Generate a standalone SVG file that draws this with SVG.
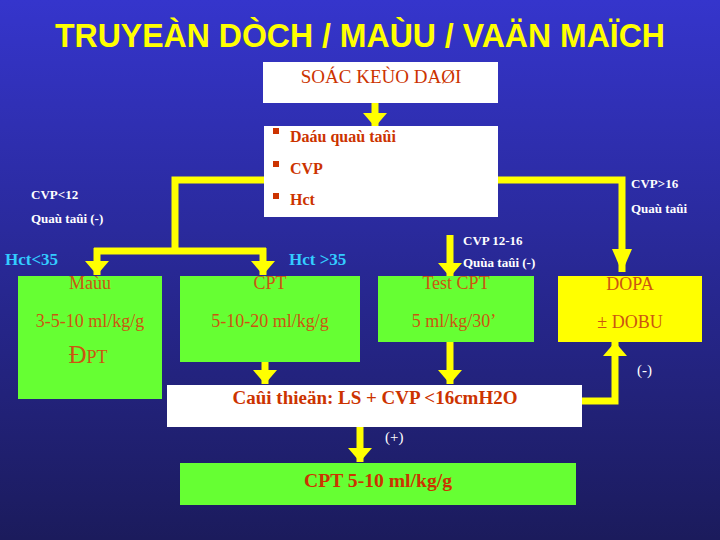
<svg xmlns="http://www.w3.org/2000/svg" width="720" height="540" viewBox="0 0 720 540">
  <defs>
    <linearGradient id="bg" x1="0" y1="0" x2="0" y2="1">
      <stop offset="0" stop-color="#3535CC"/>
      <stop offset="1" stop-color="#1B1B5C"/>
    </linearGradient>
    <marker id="ah" viewBox="0 0 14 24" markerUnits="userSpaceOnUse" markerWidth="14" markerHeight="24" refX="14" refY="12" orient="auto">
      <path d="M0,0 L14,12 L0,24 z" fill="#FFFF00"/>
    </marker>
    <marker id="ahl" viewBox="0 0 23 20" markerUnits="userSpaceOnUse" markerWidth="23" markerHeight="20" refX="23" refY="10" orient="auto">
      <path d="M0,0 L23,10 L0,20 z" fill="#FFFF00"/>
    </marker>
    <style>
      .title { font-family: "Liberation Sans", Arial, sans-serif; font-weight: bold; font-size: 34px; fill: #FFFF00; }
      .red { font-family: "Liberation Serif", "Times New Roman", serif; fill: #CC3300; }
      .bold { font-weight: bold; }
      .lbl { font-family: "Liberation Serif", "Times New Roman", serif; font-weight: bold; font-size: 13px; fill: #FFFFFF; }
      .cyan { font-family: "Liberation Serif", "Times New Roman", serif; font-weight: bold; font-size: 17px; fill: #33CCFF; }
      .box { font-family: "Liberation Serif", "Times New Roman", serif; font-size: 18px; fill: #CC5511; text-anchor: middle; }
      .thin { font-family: "Liberation Serif", "Times New Roman", serif; font-size: 15px; fill: #FFFFFF; }
      .green { fill: #66FF33; }
      .white { fill: #FFFFFF; }
      .conn { fill: none; stroke: #FFFF00; stroke-width: 7; stroke-linejoin: miter; }
    </style>
  </defs>

  <rect x="0" y="0" width="720" height="540" fill="url(#bg)"/>

  <text class="title" x="360" y="47" text-anchor="middle" textLength="610" lengthAdjust="spacingAndGlyphs">TRUYEÀN DÒCH / MAÙU / VAÄN MAÏCH</text>

  <g id="connectors">
    <path class="conn" stroke-width="6" d="M375,103 L375,127" marker-end="url(#ah)"/>
    <path class="conn" stroke-width="6" d="M264,180 L175,180 L175,251"/>
    <path class="conn" stroke-width="6" d="M94,251 L266,251"/>
    <path class="conn" stroke-width="7" d="M97,248 L97,275" marker-end="url(#ah)"/>
    <path class="conn" stroke-width="7" d="M263,248 L263,275" marker-end="url(#ah)"/>
    <path class="conn" stroke-width="8" d="M498,180 L622,180 L622,272" marker-end="url(#ahl)"/>
    <path class="conn" stroke-width="9" d="M450,235 L450,277" marker-end="url(#ah)"/>
    <path class="conn" stroke-width="9" d="M265,362 L265,384" marker-end="url(#ah)"/>
    <path class="conn" stroke-width="9" d="M450,342 L450,384" marker-end="url(#ah)"/>
    <path class="conn" stroke-width="8" d="M577,401 L615,401 L615,342" marker-end="url(#ah)"/>
    <path class="conn" stroke-width="11" d="M360,427 L360,462" marker-end="url(#ah)"/>
  </g>

  <g id="soc-keo-dai">
    <rect class="white" x="263" y="62" width="235" height="41"/>
    <text class="red" x="381" y="83" font-size="19" text-anchor="middle">SOÁC KEÙO DAØI</text>
  </g>

  <g id="dau-qua-tai">
    <rect class="white" x="264" y="126" width="234" height="91"/>
    <rect x="273" y="128" width="6" height="6" fill="#CC3300"/>
    <rect x="273" y="161" width="6" height="6" fill="#CC3300"/>
    <rect x="273" y="193" width="6" height="6" fill="#CC3300"/>
    <text class="red bold" x="290" y="142" font-size="16">Daáu quaù taûi</text>
    <text class="red bold" x="290" y="174" font-size="16">CVP</text>
    <text class="red bold" x="290" y="205" font-size="16">Hct</text>
  </g>

  <g id="labels">
    <text class="lbl" x="31" y="199">CVP&lt;12</text>
    <text class="lbl" x="31" y="223">Quaù taûi (-)</text>
    <text class="cyan" x="5" y="265">Hct&lt;35</text>
    <text class="cyan" x="289" y="265">Hct &gt;35</text>
    <text class="lbl" x="463" y="245">CVP 12-16</text>
    <text class="lbl" x="463" y="267">Quùa taûi (-)</text>
    <text class="lbl" x="631" y="188">CVP&gt;16</text>
    <text class="lbl" x="631" y="213">Quaù taûi</text>
    <text class="thin" x="637" y="375">(-)</text>
    <text class="thin" x="385" y="442" font-size="14">(+)</text>
  </g>

  <g id="mau">
    <rect class="green" x="18" y="276" width="144" height="123"/>
    <text class="box" x="90" y="289">Maùu</text>
    <text class="box" x="90" y="327">3-5-10 ml/kg/g</text>
    <text class="box" x="88" y="363"><tspan font-size="25">Đ</tspan>PT</text>
  </g>

  <g id="cpt">
    <rect class="green" x="180" y="276" width="180" height="86"/>
    <text class="box" x="270" y="289">CPT</text>
    <text class="box" x="270" y="327">5-10-20 ml/kg/g</text>
  </g>

  <g id="test-cpt">
    <rect class="green" x="378" y="276" width="156" height="66"/>
    <text class="box" x="456" y="289">Test CPT</text>
    <text class="box" x="454" y="327">5 ml/kg/30’</text>
  </g>

  <g id="dopa">
    <rect x="558" y="276" width="144" height="66" fill="#FFFF00"/>
    <text class="box" x="630" y="290">DOPA</text>
    <text class="box" x="630" y="328">± DOBU</text>
  </g>

  <g id="cai-thien">
    <rect class="white" x="167" y="385" width="415" height="42"/>
    <text class="red bold" x="375" y="404" font-size="18" text-anchor="middle" textLength="285" lengthAdjust="spacingAndGlyphs">Caûi thieän: LS + CVP &lt;16cmH2O</text>
  </g>

  <g id="cpt-5-10">
    <rect class="green" x="180" y="463" width="396" height="42"/>
    <text class="red bold" x="378" y="487" font-size="18" text-anchor="middle" textLength="148" lengthAdjust="spacingAndGlyphs">CPT 5-10 ml/kg/g</text>
  </g>
</svg>
